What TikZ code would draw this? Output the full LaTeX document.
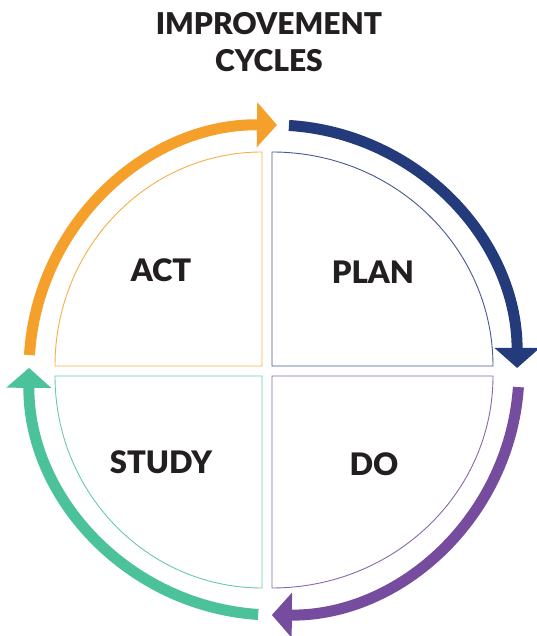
\documentclass[tikz,border=0pt]{standalone}
\usepackage{fontspec}
\setmainfont{Lato}[BoldFont={Lato Black}]
\usetikzlibrary{arrows.meta}
\definecolor{actorange}{HTML}{F5A02A}
\definecolor{planblue}{HTML}{243B7B}
\definecolor{dopurple}{HTML}{764C9F}
\definecolor{studyteal}{HTML}{4CC29A}
\definecolor{inkdark}{HTML}{231F20}
\begin{document}
\begin{tikzpicture}[x=1pt, y=1pt,
    cyclearrow/.style={line width=11pt, -{Triangle[width=44pt, length=20pt]}},
    quarter/.style={line width=0.9pt},
    phase/.style={font=\bfseries\fontsize{31}{33}\selectfont, text=inkdark}]
\useasboundingbox (0,0) rectangle (537,636);
% Title
\node[font=\bfseries\fontsize{30}{37}\selectfont, text=inkdark, align=center] (title) at (269, 594) {IMPROVEMENT\\CYCLES};
% Centre
\coordinate (hub) at (274, 266);
% Arrows
\draw[cyclearrow, actorange] (hub) ++(176.5:245) arc[start angle=176.5, end angle=89.3, radius=245];
\draw[cyclearrow, planblue] (hub) ++(86.5:245) arc[start angle=86.5, end angle=0, radius=243];
\draw[cyclearrow, dopurple] (hub) ++(-4:245) arc[start angle=-4, end angle=-90.5, radius=245];
\draw[cyclearrow, studyteal] (hub) ++(-93.7:245) arc[start angle=-93.7, end angle=-180.5, radius=245];
% Quarters
\draw[quarter, actorange!85] (262, 270) -- (55, 270) arc[start angle=180, end angle=90, x radius=207, y radius=214] -- cycle;
\draw[quarter, planblue!85] (272, 270) -- (272, 484) arc[start angle=90, end angle=0, x radius=221, y radius=214] -- cycle;
\draw[quarter, dopurple!85] (272, 260) -- (493, 260) arc[start angle=0, end angle=-90, x radius=221, y radius=212] -- cycle;
\draw[quarter, studyteal!85] (262, 260) -- (262, 48) arc[start angle=-90, end angle=-180, x radius=207, y radius=212] -- cycle;
% Labels
\node[phase] (act) at (161, 366) {ACT};
\node[phase] (plan) at (373, 364) {PLAN};
\node[phase] (study) at (161, 174) {STUDY};
\node[phase] (do) at (374, 172) {DO};
\end{tikzpicture}
\end{document}
